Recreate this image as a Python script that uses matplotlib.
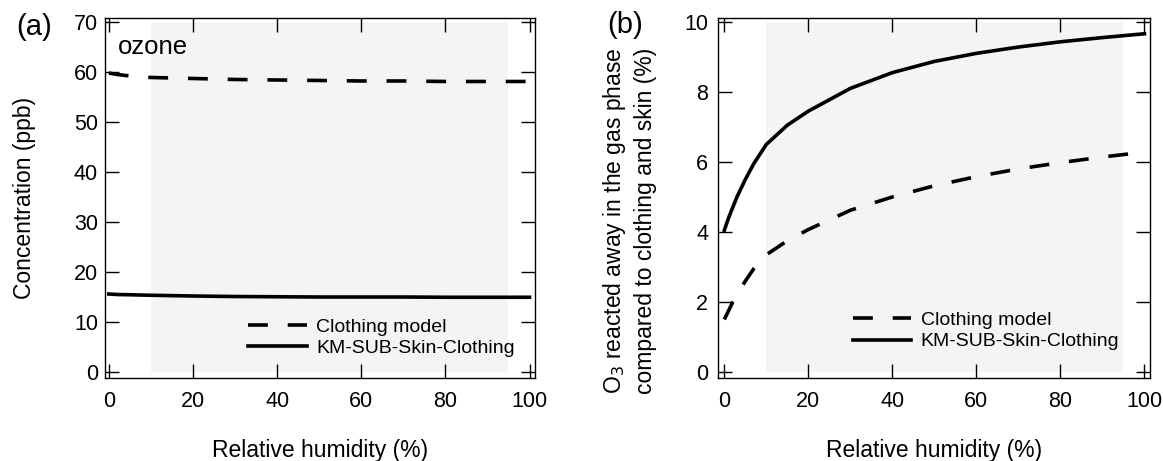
import matplotlib
matplotlib.use("Agg")
import matplotlib.pyplot as plt

plt.rcParams["font.family"] = ["Liberation Sans", "DejaVu Sans"]

# --- data ---
rh_a = [0, 2, 5, 10, 20, 30, 40, 50, 60, 70, 80, 90, 100]
clothing_a = [59.8, 59.5, 59.2, 58.9, 58.7, 58.5, 58.4, 58.3, 58.2, 58.2, 58.1, 58.1, 58.1]
kmsub_a = [15.6, 15.5, 15.45, 15.35, 15.2, 15.1, 15.05, 15.0, 15.0, 15.0, 14.95, 14.95, 14.95]

rh_b = [0, 1, 2, 3, 5, 7, 10, 15, 20, 30, 40, 50, 60, 70, 80, 90, 100]
clothing_b = [1.5, 1.75, 2.0, 2.2, 2.6, 2.95, 3.35, 3.75, 4.07, 4.62, 5.0, 5.32, 5.58, 5.8, 5.98, 6.14, 6.28]
kmsub_b = [4.05, 4.4, 4.7, 5.0, 5.5, 5.95, 6.5, 7.05, 7.45, 8.1, 8.55, 8.87, 9.1, 9.28, 9.43, 9.55, 9.66]

shade_x = [10, 95]
xticks = [0, 20, 40, 60, 80, 100]
yticks_a = [0, 10, 20, 30, 40, 50, 60, 70]
yticks_b = [0, 2, 4, 6, 8, 10]

fig = plt.figure(figsize=(11.63, 4.61), dpi=100)
ax_a = fig.add_axes([0.0903, 0.180, 0.3697, 0.781])
ax_b = fig.add_axes([0.6174, 0.180, 0.3710, 0.781])

DASH = (0, (5.5, 5.5))
LW = 2.6


def style(ax, ypad):
    ax.tick_params(direction="in", length=10, width=1, top=True, right=True,
                   labelsize=15.5, colors="black")
    ax.tick_params(axis="x", pad=9)
    ax.tick_params(axis="y", pad=ypad)
    for s in ax.spines.values():
        s.set_linewidth(1.0)
    ax.set_xticks(xticks)
    ax.set_xlabel("Relative humidity (%)", fontsize=16.5, labelpad=20)


def add_legend(ax, x, y):
    ax.legend(loc="upper left", bbox_to_anchor=(x, y), frameon=False, fontsize=14,
              borderpad=0, borderaxespad=0, handlelength=3.0, handletextpad=0.5,
              labelspacing=0.21)


# (a) ozone concentration
ax_a.fill_between(shade_x, 0, 70, color="#f4f4f4", lw=0, zorder=0)
ax_a.plot(rh_a, clothing_a, color="black", lw=LW, ls=DASH, label="Clothing model")
ax_a.plot(rh_a, kmsub_a, color="black", lw=LW, label="KM-SUB-Skin-Clothing")
ax_a.set_xlim(-0.9, 101.3)
ax_a.set_ylim(-1.2, 70.8)
ax_a.set_yticks(yticks_a)
style(ax_a, 5)
ax_a.set_ylabel("Concentration (ppb)", fontsize=16.5)
ax_a.yaxis.set_label_coords(-0.16, 0.5)
ax_a.text(0.030, 0.919, "ozone", transform=ax_a.transAxes, fontsize=18.5, va="center")
add_legend(ax_a, 0.333, 0.167)

# (b) fraction reacted in gas phase
ax_b.fill_between(shade_x, 0, 10, color="#f4f4f4", lw=0, zorder=0)
ax_b.plot(rh_b, clothing_b, color="black", lw=LW, ls=DASH, label="Clothing model")
ax_b.plot(rh_b, kmsub_b, color="black", lw=LW, label="KM-SUB-Skin-Clothing")
ax_b.set_xlim(-1.5, 101.2)
ax_b.set_ylim(-0.17, 10.11)
ax_b.set_yticks(yticks_b)
style(ax_b, 7)
ax_b.set_ylabel("O$_3$ reacted away in the gas phase\ncompared to clothing and skin (%)",
                fontsize=16.5, linespacing=1.35)
ax_b.yaxis.set_label_coords(-0.141, 0.436)
add_legend(ax_b, 0.312, 0.186)

fig.text(16 / 1163, 1 - 27 / 461, "(a)", fontsize=21, va="center", ha="left")
fig.text(607 / 1163, 1 - 25 / 461, "(b)", fontsize=21, va="center", ha="left")

fig.savefig("out.png", dpi=100)
